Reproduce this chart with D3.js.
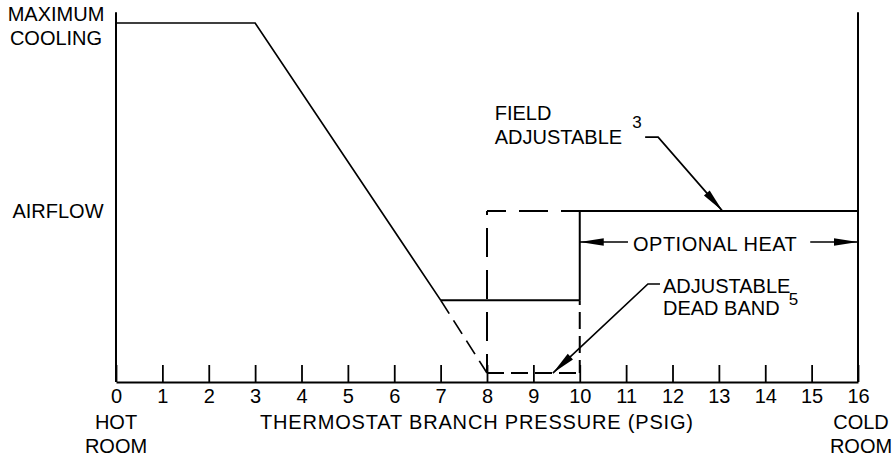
<!DOCTYPE html>
<html>
<head>
<meta charset="utf-8">
<script src="https://cdn.jsdelivr.net/npm/d3@7"></script>
<style>
body{margin:0;background:#fff}
text{font-family:"Liberation Sans",Arial,sans-serif;font-size:20px;fill:#000}
.line{fill:none;stroke:#000;stroke-width:2}
</style>
</head>
<body>
<svg id="graph"></svg>
<script>
// tick labels along the bottom (psig)
var xTicks = [0,1,2,3,4,5,6,7,8,9,10,11,12,13,14,15,16];

// airflow levels, % of maximum cooling
var maxFlow = 100, heatFlow = 47.6, minFlow = 22.8, deadFlow = 2.5, axisTop = 103;

// series, [psig, airflow]
var coolingLine   = [[0,maxFlow],[3,maxFlow],[7,minFlow]];
var cutoffDashed  = [[7,minFlow],[8,deadFlow]];
var minimumLine   = [[7,minFlow],[10,minFlow]];
var deadBandFloor = [[8,deadFlow],[10,deadFlow]];
var boxLeft       = [[8,deadFlow],[8,heatFlow]];
var boxTop        = [[8,heatFlow],[10,heatFlow]];
var heatLine      = [[10,minFlow],[10,heatFlow],[16,heatFlow]];
var heatDashed    = [[10,deadFlow],[10,minFlow]];
var leftEdge      = [[0,0],[0,axisTop]];
var rightEdge     = [[16,0],[16,axisTop]];

// annotation leaders, [psig, airflow]
var fieldLeader    = [[11.41,68.2],[11.69,68.2],[13.08,heatFlow]];
var deadLeader     = [[11.73,27.3],[11.47,27.3],[9.42,deadFlow]];
var heatArrowLeft  = [[11.04,39],[10,39]];
var heatArrowRight = [[14.97,39],[16,39]];

var screen = {width:896, height:459};

var svg = d3.select("#graph")
    .attr("width",screen.width)
    .attr("height",screen.height);

var xScale = d3.scaleLinear().domain([0,16]).range([116,858]);
var yScale = d3.scaleLinear().domain([0,100]).range([382,23]);

var lineGenerator = d3.line()
    .x(function(d){ return xScale(d[0]); })
    .y(function(d){ return yScale(d[1]); });

var defs = svg.append("defs");
defs.append("marker")
    .attr("id","arrow")
    .attr("markerUnits","userSpaceOnUse")
    .attr("markerWidth",30).attr("markerHeight",12)
    .attr("viewBox","-26 -6 30 12")
    .attr("refX",0).attr("refY",0)
    .attr("orient","auto")
    .append("path")
    .attr("d","M0,0 L-24,-3.8 L-24,3.8 Z")
    .attr("fill","#000");

var drawPath = function(data,dash,width,arrow)
{
    var p = svg.append("path")
        .datum(data)
        .classed("line",true)
        .attr("d",lineGenerator);
    if(dash) p.attr("stroke-dasharray",dash[0]).attr("stroke-dashoffset",dash[1]);
    if(width) p.style("stroke-width",width);
    if(arrow) p.attr("marker-end","url(#arrow)");
    return p;
}

// axis along the bottom, ticks pointing up
var xAxis = d3.axisBottom(xScale)
    .tickValues(xTicks)
    .tickSizeInner(-17)
    .tickSizeOuter(0)
    .tickPadding(7);

var axisG = svg.append("g")
    .attr("transform","translate(0,"+yScale(0)+")")
    .call(xAxis);
axisG.select(".domain").attr("stroke","#000").attr("stroke-width",2);
axisG.selectAll(".tick line").attr("stroke","#000").attr("stroke-width",1.8);

drawPath(leftEdge);
drawPath(rightEdge);
drawPath(coolingLine,null,1.7);
drawPath(cutoffDashed,["16,8",0],1.7);
drawPath(minimumLine);
drawPath(deadBandFloor,["17,7",0]);
drawPath(boxLeft,["29,13",10]);
drawPath(boxTop,["29,13",10]);
drawPath(heatLine);
drawPath(heatDashed,["17,7",4]);

drawPath(fieldLeader,null,1.7,true);
drawPath(deadLeader,null,1.7,true);
drawPath(heatArrowLeft,null,1.7,true);
drawPath(heatArrowRight,null,1.7,true);

// labels
var labels = svg.append("g").classed("labels",true);

var addText = function(txt,x,y,anchor,size)
{
    var t = labels.append("text")
        .text(txt)
        .attr("x",x)
        .attr("y",y)
        .attr("text-anchor",anchor||"start");
    if(size) t.style("font-size",size+"px");
    return t;
}

addText("MAXIMUM",56,yScale(maxFlow)-2,"middle");
addText("COOLING",56,yScale(maxFlow)+22,"middle");
addText("AIRFLOW",58,yScale(heatFlow)+7,"middle");

addText("HOT",xScale(0),429,"middle");
addText("ROOM",xScale(0),453,"middle");
addText("COLD",xScale(16)+3,429,"middle");
addText("ROOM",xScale(16)+3,453,"middle");

addText("THERMOSTAT BRANCH PRESSURE (PSIG)",260,429)
    .attr("textLength",433)
    .attr("lengthAdjust","spacing");

var adj = addText("ADJUSTABLE",xScale(fieldLeader[0][0])-23,yScale(fieldLeader[0][1])+7,"end");
var adjStart = adj.node().getBBox().x;
addText("FIELD",adjStart,yScale(fieldLeader[0][1])-17);
addText("3",xScale(fieldLeader[0][0])-13,yScale(fieldLeader[0][1])-9,"start",17);

addText("OPTIONAL HEAT",633,yScale(39)+9).style("letter-spacing","0.5px");

var dx = xScale(deadLeader[0][0])+3;
addText("ADJUSTABLE",dx,yScale(deadLeader[0][1])+9);
var dead = addText("DEAD BAND",dx,yScale(deadLeader[0][1])+31);
var deadEnd = dx + dead.node().getComputedTextLength();
addText("5",deadEnd+9,yScale(deadLeader[0][1])+21,"start",17);
</script>
</body>
</html>
